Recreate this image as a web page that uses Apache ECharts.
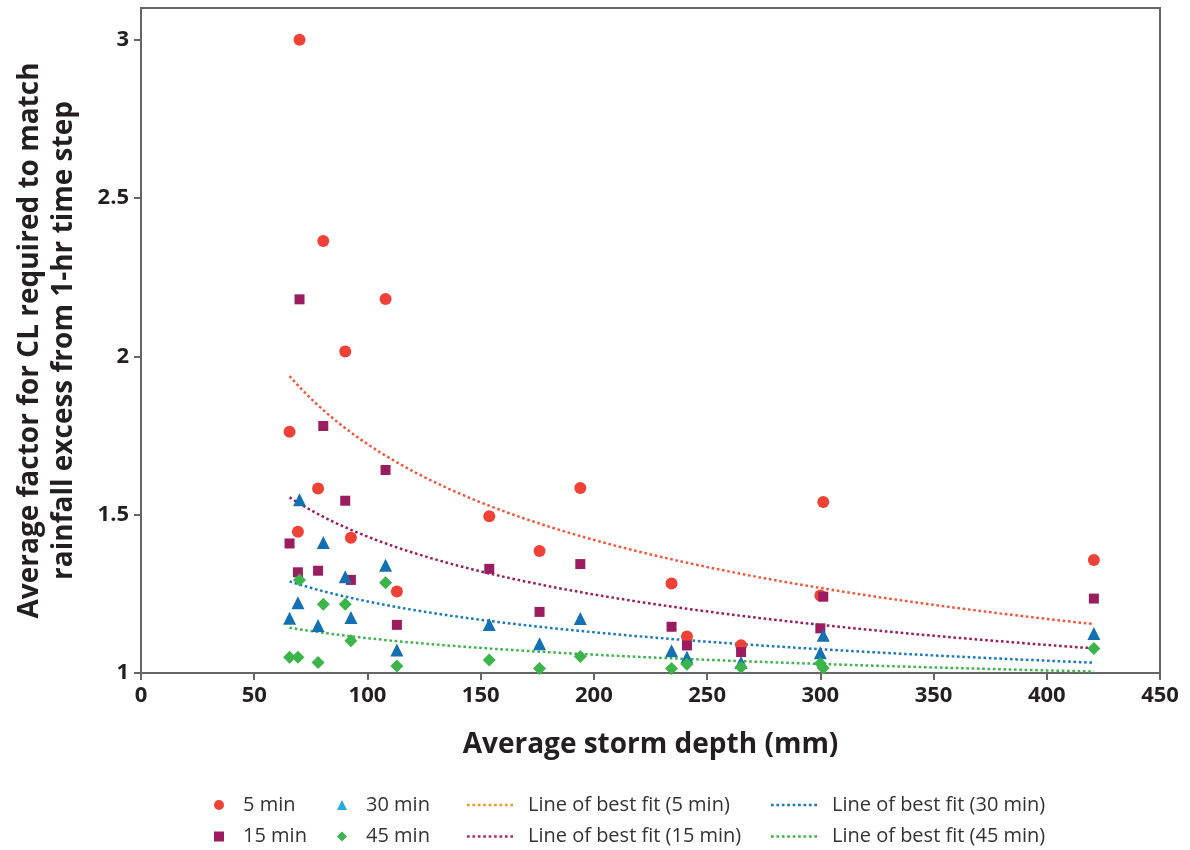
<!DOCTYPE html>
<html>
<head>
<meta charset="utf-8">
<title>Average factor for CL vs average storm depth</title>
<script src="https://cdn.jsdelivr.net/npm/echarts@6/dist/echarts.min.js"></script>
<style>
  html, body { margin: 0; padding: 0; background: #ffffff; }
  #chart { width: 1190px; height: 850px; }
</style>
</head>
<body>
<div id="chart"></div>
<script>
// Average storm depth (mm) for each event; the four durations share these depths
const stormDepth = [65.6, 69.3, 70, 78.2, 80.5, 90.2, 92.7, 108, 113, 153.8, 176, 194, 234.3, 241.1, 265, 300, 301.3, 420.8];

// Average CL factor needed to match the 1-hr rainfall excess, per sub-hourly time step
const factor5min  = [1.762, 1.446, 3.0, 1.583, 2.364, 2.015, 1.427, 2.181, 1.257, 1.495, 1.385, 1.584, 1.283, 1.115, 1.088, 1.245, 1.54, 1.357];
const factor15min = [1.409, 1.318, 2.18, 1.323, 1.78, 1.544, 1.294, 1.641, 1.152, 1.329, 1.193, 1.344, 1.146, 1.087, 1.066, 1.141, 1.241, 1.235];
const factor30min = [1.173, 1.222, 1.547, 1.15, 1.412, 1.304, 1.175, 1.34, 1.073, 1.153, 1.092, 1.172, 1.07, 1.05, 1.033, 1.064, 1.119, 1.125];
const factor45min = [1.05, 1.05, 1.294, 1.033, 1.217, 1.217, 1.102, 1.285, 1.022, 1.041, 1.014, 1.052, 1.014, 1.028, 1.018, 1.03, 1.016, 1.077];

const xTicks = [0, 50, 100, 150, 200, 250, 300, 350, 400, 450];
const yTicks = [1, 1.5, 2, 2.5, 3];

const FONT = '"Open Sans", "Noto Sans", sans-serif';

// Power-law trend line y = a * x^b, least squares on ln(x), ln(y)
function powerFit(xs, ys) {
  const n = xs.length;
  const lx = xs.map(Math.log), ly = ys.map(Math.log);
  const mx = lx.reduce((s, v) => s + v, 0) / n;
  const my = ly.reduce((s, v) => s + v, 0) / n;
  let sxy = 0, sxx = 0;
  for (let i = 0; i < n; i++) {
    sxy += (lx[i] - mx) * (ly[i] - my);
    sxx += (lx[i] - mx) * (lx[i] - mx);
  }
  const b = sxy / sxx;
  const a = Math.exp(my - b * mx);
  const lo = Math.min(...xs), hi = Math.max(...xs);
  const pts = [];
  const steps = 120;
  for (let k = 0; k <= steps; k++) {
    const x = lo + (hi - lo) * k / steps;
    pts.push([x, a * Math.pow(x, b)]);
  }
  return pts;
}

function pairs(ys) { return stormDepth.map((x, i) => [x, ys[i]]); }

const colors = {
  c5: '#ef4136', c15: '#9b1d5f', c30: '#1370b2', c45: '#3bb54a',
  fit5: '#f2553a', fit15: '#9b1d5f', fit30: '#1a78c2', fit45: '#3bb54a'
};

// Row of square dots used as the legend swatch for the dotted trend lines
const dottedIcon = (function () {
  let d = 'path://';
  for (let i = 0; i < 9; i++) {
    const x = (i * 5.3).toFixed(2);
    d += 'M' + x + ',0h2.6v2.6h-2.6z';
  }
  return d;
})();

function scatter(name, ys, symbol, size, color) {
  return {
    name, type: 'scatter', data: pairs(ys), symbol, symbolSize: size,
    itemStyle: { color, opacity: 1 }, z: 3
  };
}

function fitLine(name, ys, color) {
  return {
    name, type: 'line', data: powerFit(stormDepth, ys), showSymbol: false, symbol: 'none',
    smooth: false, silent: true, z: 2,
    lineStyle: { color, width: 2.5, type: [2.6, 2.7], cap: 'butt' },
    itemStyle: { color }
  };
}

const legendText = { fontFamily: FONT, fontSize: 20, color: '#333333', lineHeight: 22 };

function markerLegend(left, items) {
  return {
    orient: 'vertical', left, top: 794, padding: 0, itemWidth: 10, itemHeight: 10, itemGap: 9.5,
    selectedMode: false, textStyle: Object.assign({ padding: [0, 0, 0, 14] }, legendText),
    data: items
  };
}
function lineLegend(left, items) {
  return {
    orient: 'vertical', left, top: 794, padding: 0, itemWidth: 46, itemHeight: 3, itemGap: 9.5,
    selectedMode: false, textStyle: Object.assign({ padding: [0, 0, 0, 10] }, legendText),
    data: items.map(it => Object.assign({ icon: dottedIcon }, it))
  };
}

const chart = echarts.init(document.getElementById('chart'), null, { renderer: 'canvas' });

chart.setOption({
  backgroundColor: '#ffffff',
  animation: false,
  textStyle: { fontFamily: FONT },
  grid: {
    left: 141, right: 30, top: 8, bottom: 177,
    show: true, borderColor: '#666666', borderWidth: 2, backgroundColor: 'transparent'
  },
  xAxis: {
    type: 'value', min: 0, max: 450, interval: 50,
    name: 'Average storm depth (mm)', nameLocation: 'middle', nameGap: 55,
    nameTextStyle: { fontFamily: FONT, fontSize: 28, fontWeight: 'bold', color: '#231f20', lineHeight: 34 },
    axisLine: { show: true, lineStyle: { color: '#666666', width: 2 } },
    axisTick: { show: true, length: 7, lineStyle: { color: '#666666', width: 2 }, customValues: xTicks },
    axisLabel: { margin: 12, fontFamily: FONT, fontSize: 22, fontWeight: 'bold', color: '#231f20', customValues: xTicks },
    splitLine: { show: false }
  },
  yAxis: {
    type: 'value', min: 1, max: 3.1, interval: 0.5,
    name: 'Average factor for CL required to match\nrainfall excess from 1-hr time step',
    nameLocation: 'middle', nameGap: 60,
    nameTextStyle: { fontFamily: FONT, fontSize: 28, fontWeight: 'bold', color: '#231f20', lineHeight: 34, align: 'center' },
    axisLine: { show: true, lineStyle: { color: '#666666', width: 2 } },
    axisTick: { show: true, length: 7, lineStyle: { color: '#666666', width: 2 }, customValues: yTicks },
    axisLabel: { margin: 12, fontFamily: FONT, fontSize: 22, fontWeight: 'bold', color: '#231f20', customValues: yTicks },
    splitLine: { show: false }
  },
  legend: [
    markerLegend(214, [
      { name: '5 min' },
      { name: '15 min' }
    ]),
    markerLegend(337, [
      { name: '30 min', itemStyle: { color: '#29a9e0' } },
      { name: '45 min' }
    ]),
    lineLegend(467, [
      { name: 'Line of best fit (5 min)', itemStyle: { color: '#f7941d' } },
      { name: 'Line of best fit (15 min)', itemStyle: { color: '#b5226e' } }
    ]),
    lineLegend(771, [
      { name: 'Line of best fit (30 min)' },
      { name: 'Line of best fit (45 min)' }
    ])
  ],
  series: [
    fitLine('Line of best fit (5 min)', factor5min, colors.fit5),
    fitLine('Line of best fit (15 min)', factor15min, colors.fit15),
    fitLine('Line of best fit (30 min)', factor30min, colors.fit30),
    fitLine('Line of best fit (45 min)', factor45min, colors.fit45),
    scatter('5 min', factor5min, 'circle', 12, colors.c5),
    scatter('15 min', factor15min, 'rect', 10, colors.c15),
    scatter('30 min', factor30min, 'triangle', 13, colors.c30),
    scatter('45 min', factor45min, 'diamond', 13, colors.c45)
  ]
});
</script>
</body>
</html>
